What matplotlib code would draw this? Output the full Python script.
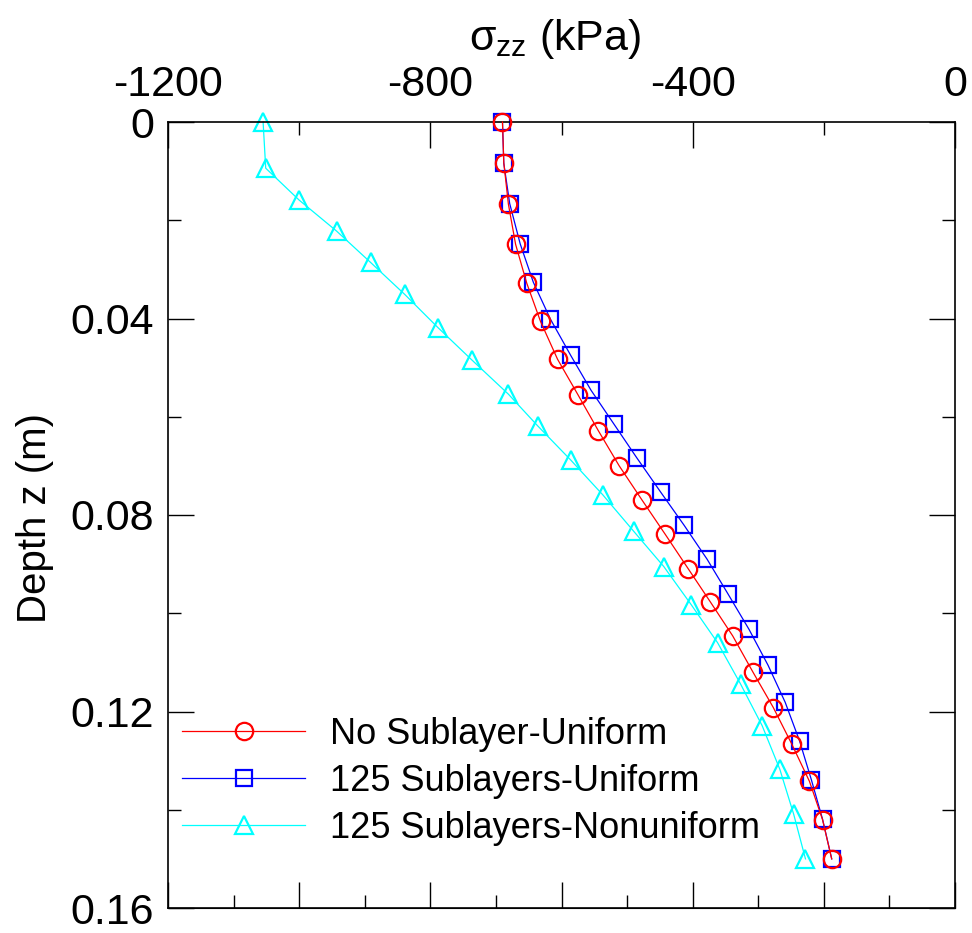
import numpy as np
import matplotlib
matplotlib.use("Agg")
import matplotlib.pyplot as plt
from matplotlib.ticker import MultipleLocator, FixedLocator

plt.rcParams['font.family'] = ['Liberation Sans', 'DejaVu Sans']
plt.rcParams['mathtext.fontset'] = 'custom'
plt.rcParams['mathtext.rm'] = 'Liberation Sans'
plt.rcParams['mathtext.default'] = 'regular'
plt.rcParams['axes.unicode_minus'] = False

# depth (m) and vertical stress (kPa) read at the marker positions
depth_no_sub = [0.0, 0.0083, 0.0167, 0.0249, 0.0328, 0.0406, 0.0483, 0.0555, 0.0628, 0.0700,
                0.0770, 0.0839, 0.0909, 0.0977, 0.1046, 0.1120, 0.1192, 0.1266, 0.1342, 0.1420, 0.15]
szz_no_sub = [-690, -688, -681, -670, -653, -632, -606, -575, -544, -512,
              -477, -442, -407, -373, -339, -308, -277, -249, -222, -202, -188]

depth_125_uni = [0.0, 0.0084, 0.0166, 0.0248, 0.0326, 0.0401, 0.0475, 0.0546, 0.0615, 0.0684,
                 0.0753, 0.0821, 0.0890, 0.0961, 0.1033, 0.1106, 0.1181, 0.1260, 0.1339, 0.1419, 0.15]
szz_125_uni = [-690, -688, -679, -663, -643, -617, -586, -555, -520, -485,
               -449, -413, -378, -346, -314, -285, -259, -237, -219, -202, -188]

depth_125_non = [0.0, 0.0094, 0.0159, 0.0222, 0.0286, 0.0351, 0.0419, 0.0484, 0.0554, 0.0619,
                 0.0688, 0.0759, 0.0833, 0.0905, 0.0983, 0.1060, 0.1144, 0.1229, 0.1318, 0.1409, 0.15]
szz_125_non = [-1055, -1051, -1000, -943, -891, -839, -788, -737, -681, -636,
               -586, -537, -490, -444, -402, -362, -327, -294, -267, -246, -228]

labels = ['No Sublayer-Uniform', '125 Sublayers-Uniform', '125 Sublayers-Nonuniform']

fig = plt.figure(figsize=(9.72, 9.33), dpi=100)
ax = fig.add_axes([168/972, 1-908/933, (955-168)/972, (908-122)/933])

ax.plot(szz_no_sub, depth_no_sub, color='#ff0000', lw=0.9, marker='o', ms=12.5,
        mfc='none', mec='#ff0000', mew=1.6, label=labels[0], clip_on=False, zorder=3)
ax.plot(szz_125_uni, depth_125_uni, color='#0000ff', lw=0.9, marker='s', ms=12,
        mfc='none', mec='#0000ff', mew=1.6, label=labels[1], clip_on=False, zorder=2)
ax.plot(szz_125_non, depth_125_non, color='#00ffff', lw=0.9, marker='^', ms=13.5,
        mfc='none', mec='#00ffff', mew=1.6, label=labels[2], clip_on=False, zorder=2)

ax.set_xlim(-1200, 0)
ax.set_ylim(0.16, 0)

# top axis: labelled
ax.xaxis.tick_top()
ax.xaxis.set_major_locator(FixedLocator([-1200, -800, -400, 0]))
ax.xaxis.set_minor_locator(FixedLocator([-1000, -600, -200]))
ax.set_xticklabels(['-1200', '-800', '-400', '0'])
ax.tick_params(axis='x', which='major', direction='in', length=19, width=1, labelsize=31, pad=12)
ax.tick_params(axis='x', which='minor', direction='in', length=9.5, width=1)

# bottom axis: ticks only
sec = ax.secondary_xaxis('bottom')
sec.xaxis.set_major_locator(FixedLocator([-1200, -1000, -800, -600, -400, -200, 0]))
sec.xaxis.set_minor_locator(FixedLocator([-1100, -900, -700, -500, -300, -100]))
sec.tick_params(axis='x', which='major', direction='in', length=19, width=1, labelbottom=False)
sec.tick_params(axis='x', which='minor', direction='in', length=9.5, width=1)

ax.yaxis.set_major_locator(MultipleLocator(0.04))
ax.yaxis.set_minor_locator(MultipleLocator(0.02))
ax.set_yticks([0, 0.04, 0.08, 0.12, 0.16])
ax.set_yticklabels(['0', '0.04', '0.08', '0.12', '0.16'])
ax.tick_params(axis='y', which='both', direction='in', left=True, right=True, width=1)
ax.tick_params(axis='y', which='major', length=19, labelsize=31, pad=10)
ax.tick_params(axis='y', which='minor', length=9.5)

for s in ax.spines.values():
    s.set_linewidth(1.2)

fig.text(555/972, 1-50/933, r'$\sigma_{zz}$ (kPa)', ha='center', va='baseline', fontsize=31)
fig.text(35/972, 1-518/933, 'Depth z (m)', rotation=90, ha='center', va='center', fontsize=29)

ax.legend(loc='lower left', bbox_to_anchor=(-0.014, 0.047), frameon=False, fontsize=26,
          handlelength=3.4, handletextpad=0.7, labelspacing=0.33, borderaxespad=0.3)

fig.savefig('out.png', dpi=100)
